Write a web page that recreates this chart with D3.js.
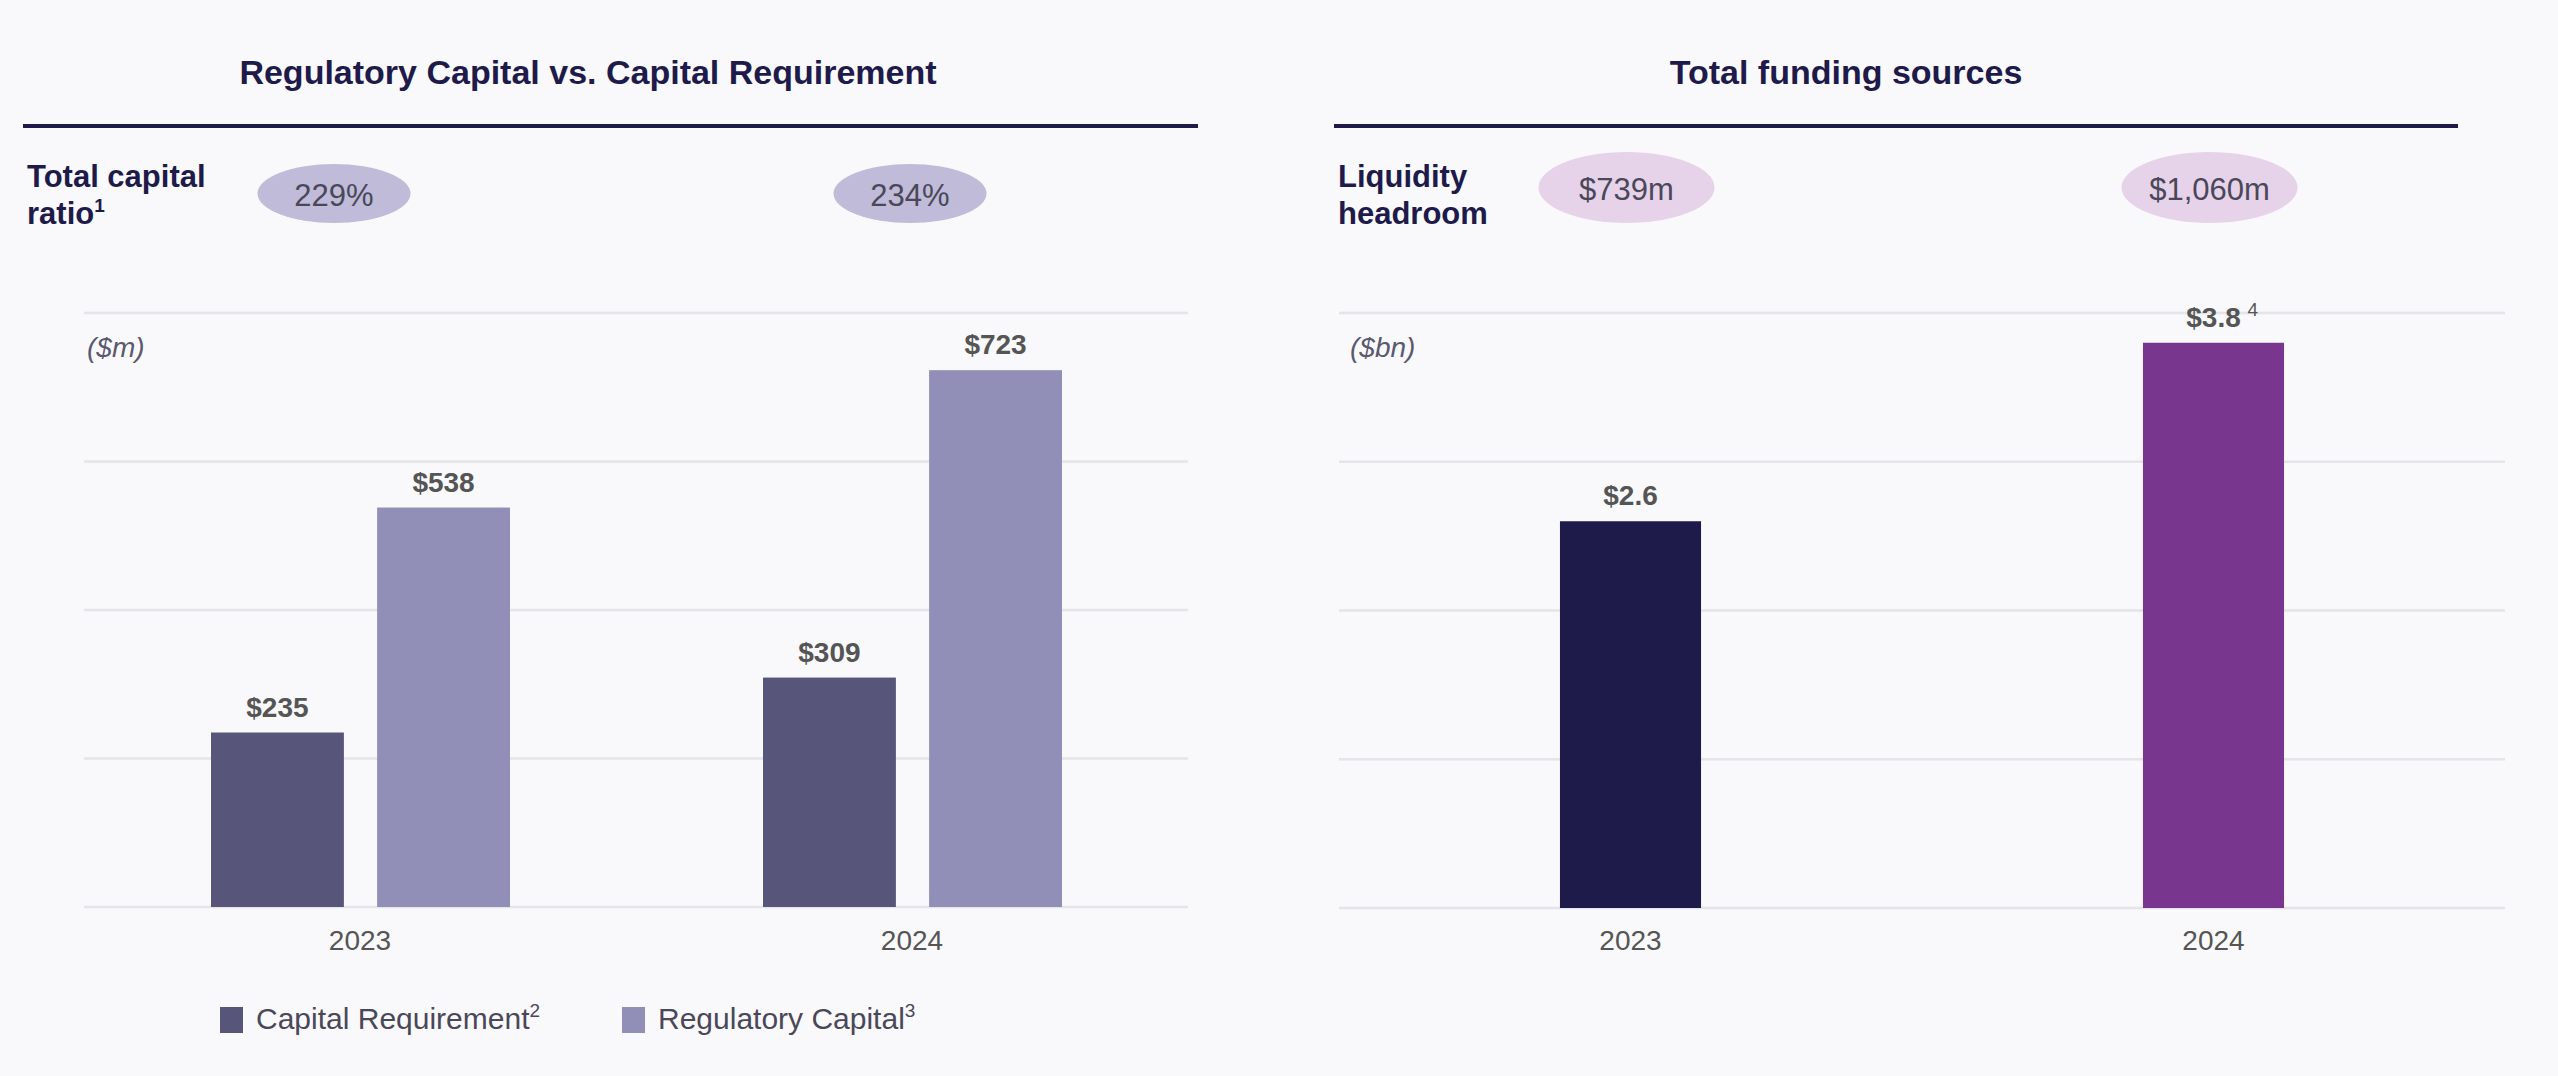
<!DOCTYPE html>
<html>
<head>
<meta charset="utf-8">
<script src="https://cdn.jsdelivr.net/npm/d3@7"></script>
<style>
  body { margin: 0; background: #f9f9fb; }
  svg { display: block; font-family: "Liberation Sans", Arial, sans-serif; }
</style>
</head>
<body>
<script>
// data
var years = ['2023', '2024'];
var capSeries = ['Capital Requirement', 'Regulatory Capital'];
var capRequirement = [235, 309];
var regCapital = [538, 723];
var capRatio = ['229%', '234%'];
var capTicks = [0, 200, 400, 600, 800];

var funding = [2.6, 3.8];
var fundingLabels = ['$2.6', '$3.8'];
var fundingNotes = ['', '4'];
var liquidity = ['$739m', '$1,060m'];
var fundTicks = [0, 1, 2, 3, 4];

var navy = '#1e1b4b';
var capColors = ['#575579', '#918eb8'];
var fundColors = ['#1e1b4b', '#78368e'];

var svg = d3.select('body')
	.append('svg')
	.attr('width', 2558)
	.attr('height', 1076);

function header(title, tx, x1, x2, line1, line2, sup) {
	svg.append('text')
		.attr('x', tx)
		.attr('y', 84)
		.attr('text-anchor', 'middle')
		.attr('font-size', 34)
		.attr('font-weight', 'bold')
		.attr('fill', navy)
		.text(title);

	svg.append('line')
		.attr('x1', x1).attr('x2', x2)
		.attr('y1', 126).attr('y2', 126)
		.attr('stroke', navy)
		.attr('stroke-width', 4);

	svg.append('text')
		.attr('x', x1 + 4)
		.attr('y', 187)
		.attr('font-size', 31)
		.attr('font-weight', 'bold')
		.attr('fill', navy)
		.text(line1);
	var l2 = svg.append('text')
		.attr('x', x1 + 4)
		.attr('y', 224)
		.attr('font-size', 31)
		.attr('font-weight', 'bold')
		.attr('fill', navy);
	l2.append('tspan').text(line2);
	if (sup) {
		l2.append('tspan').attr('font-size', 19).attr('dy', -12).text(sup);
	}
}

function grid(y, ticks, x1, x2) {
	svg.append('g')
		.selectAll('line')
		.data(ticks)
		.enter()
		.append('line')
		.attr('x1', x1)
		.attr('x2', x2)
		.attr('y1', function(d) { return y(d); })
		.attr('y2', function(d) { return y(d); })
		.attr('stroke', '#e4e4e9')
		.attr('stroke-width', 2.5);
}

function bubbles(texts, cxs, cy, rx, ry, fill) {
	var g = svg.append('g');
	g.selectAll('ellipse')
		.data(texts)
		.enter()
		.append('ellipse')
		.attr('cx', function(d, i) { return cxs[i]; })
		.attr('cy', cy)
		.attr('rx', rx)
		.attr('ry', ry)
		.attr('fill', fill);
	g.selectAll('text')
		.data(texts)
		.enter()
		.append('text')
		.attr('x', function(d, i) { return cxs[i]; })
		.attr('y', cy + 12)
		.attr('text-anchor', 'middle')
		.attr('font-size', 31)
		.attr('fill', '#4a4858')
		.text(function(d) { return d; });
}

function xLabels(x) {
	svg.append('g')
		.selectAll('text')
		.data(years)
		.enter()
		.append('text')
		.attr('x', function(d) { return x(d) + x.bandwidth() / 2; })
		.attr('y', 950)
		.attr('text-anchor', 'middle')
		.attr('font-size', 28)
		.attr('fill', '#555')
		.text(function(d) { return d; });
}

function unit(txt, xx) {
	svg.append('text')
		.attr('x', xx)
		.attr('y', 357)
		.attr('font-size', 28)
		.attr('font-style', 'italic')
		.attr('fill', '#5a5a6e')
		.text(txt);
}

// ---- left: regulatory capital ----
header('Regulatory Capital vs. Capital Requirement', 588, 23, 1198, 'Total capital', 'ratio', '1');

var x0 = d3.scaleBand().domain(years).range([84, 1188]);
var x1 = d3.scaleBand().domain(capSeries).range([127, 426]).paddingInner(0.2);
var yCap = d3.scaleLinear().domain([0, 800]).range([907, 313]);

grid(yCap, capTicks, 84, 1188);
unit('($m)', 87);
bubbles(capRatio, [x0('2023') + x0.bandwidth() / 2 - 26, x0('2024') + x0.bandwidth() / 2 - 2], 193.5, 76.5, 29.5, '#bfbbd8');

var capRows = years.map(function(yr, i) {
	return [
		{ year: yr, key: capSeries[0], value: capRequirement[i], color: capColors[0] },
		{ year: yr, key: capSeries[1], value: regCapital[i], color: capColors[1] }
	];
});
var capFlat = [].concat.apply([], capRows);

svg.append('g')
	.selectAll('rect')
	.data(capFlat)
	.enter()
	.append('rect')
	.attr('x', function(d) { return x0(d.year) + x1(d.key); })
	.attr('y', function(d) { return yCap(d.value); })
	.attr('width', x1.bandwidth())
	.attr('height', function(d) { return yCap(0) - yCap(d.value); })
	.attr('fill', function(d) { return d.color; });

svg.append('g')
	.selectAll('text')
	.data(capFlat)
	.enter()
	.append('text')
	.attr('x', function(d) { return x0(d.year) + x1(d.key) + x1.bandwidth() / 2; })
	.attr('y', function(d) { return yCap(d.value) - 16; })
	.attr('text-anchor', 'middle')
	.attr('font-size', 28)
	.attr('font-weight', 'bold')
	.attr('fill', '#555')
	.text(function(d) { return '$' + d.value; });

xLabels(x0);

// legend
var legX = [220, 622];
var legSup = ['2', '3'];
var leg = svg.append('g')
	.selectAll('g')
	.data(capSeries)
	.enter()
	.append('g');
leg.append('rect')
	.attr('x', function(d, i) { return legX[i]; })
	.attr('y', 1007)
	.attr('width', 23)
	.attr('height', 26)
	.attr('fill', function(d, i) { return capColors[i]; });
var legText = leg.append('text')
	.attr('x', function(d, i) { return legX[i] + 36; })
	.attr('y', 1029)
	.attr('font-size', 30)
	.attr('fill', '#4a4858');
legText.append('tspan').text(function(d) { return d; });
legText.append('tspan')
	.attr('font-size', 19)
	.attr('dy', -12)
	.text(function(d, i) { return legSup[i]; });

// ---- right: total funding sources ----
header('Total funding sources', 1846, 1334, 2458, 'Liquidity', 'headroom', null);

var xf = d3.scaleBand().domain(years).range([1339, 2505]);
var yFund = d3.scaleLinear().domain([0, 4]).range([908, 313]);
var fw = xf.bandwidth() * 0.242;

grid(yFund, fundTicks, 1339, 2505);
unit('($bn)', 1350);
bubbles(liquidity, years.map(function(d) { return xf(d) + xf.bandwidth() / 2 - 4; }), 187.5, 88, 35.5, '#e6d3ea');

svg.append('g')
	.selectAll('rect')
	.data(funding)
	.enter()
	.append('rect')
	.attr('x', function(d, i) { return xf(years[i]) + (xf.bandwidth() - fw) / 2; })
	.attr('y', function(d) { return yFund(d); })
	.attr('width', fw)
	.attr('height', function(d) { return yFund(0) - yFund(d); })
	.attr('fill', function(d, i) { return fundColors[i]; });

svg.append('g')
	.selectAll('text')
	.data(funding)
	.enter()
	.append('text')
	.attr('x', function(d, i) { return xf(years[i]) + xf.bandwidth() / 2; })
	.attr('y', function(d) { return yFund(d) - 16; })
	.attr('text-anchor', 'middle')
	.attr('font-size', 28)
	.attr('font-weight', 'bold')
	.attr('fill', '#555')
	.text(function(d, i) { return fundingLabels[i]; });

// footnote marker next to the 2024 label
svg.append('g')
	.selectAll('text')
	.data(funding)
	.enter()
	.filter(function(d, i) { return fundingNotes[i] !== ''; })
	.append('text')
	.attr('x', function(d) { return xf(years[1]) + xf.bandwidth() / 2 + 34; })
	.attr('y', function(d) { return yFund(d) - 27; })
	.attr('font-size', 19)
	.attr('fill', '#555')
	.text(fundingNotes[1]);

xLabels(xf);
</script>
</body>
</html>
